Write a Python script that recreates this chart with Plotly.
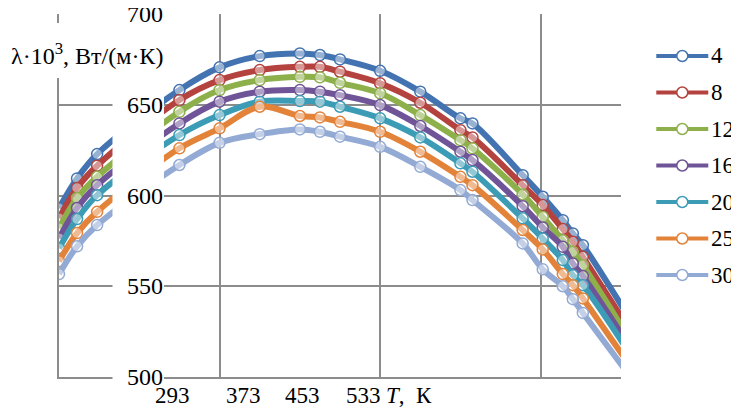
import plotly.graph_objects as go

# Temperature, K
T = [293, 302, 312, 353, 373, 393, 413, 423, 433, 453, 473, 493, 499, 524, 534, 544, 549, 554, 593]

series_names = ["4", "8", "12", "16", "20", "25", "30"]
lam_4  = [593.0, 609.4, 622.8, 658.1, 670.6, 676.8, 678.3, 677.4, 675.0, 668.7, 657.2, 642.5, 639.7, 611.2, 599.3, 586.4, 579.1, 572.6, 503.6]
lam_8  = [587.5, 604.2, 616.4, 652.6, 663.6, 669.1, 670.9, 670.9, 668.2, 661.8, 651.1, 636.0, 632.0, 605.7, 594.7, 581.5, 574.5, 566.2, 499.1]
lam_12 = [582.0, 598.6, 610.3, 646.1, 658.1, 663.6, 665.4, 665.1, 662.1, 656.3, 644.3, 630.5, 626.0, 600.6, 588.2, 575.4, 569.0, 561.6, 492.6]
lam_16 = [576.5, 593.1, 605.7, 639.7, 651.7, 657.2, 658.1, 657.2, 655.3, 649.8, 638.3, 624.1, 619.5, 594.1, 582.4, 571.7, 562.6, 555.6, 490.0]
lam_20 = [571.0, 587.0, 600.2, 633.3, 644.3, 651.7, 652.0, 651.7, 648.9, 642.5, 632.0, 617.7, 613.1, 587.4, 576.3, 564.4, 556.1, 550.6, 486.2]
lam_25 = [563.8, 579.3, 591.0, 626.0, 637.0, 648.9, 643.8, 643.0, 640.6, 635.1, 624.1, 610.3, 605.7, 581.0, 570.3, 556.7, 550.6, 543.3, 481.3]
lam_30 = [556.7, 572.0, 583.7, 616.8, 629.0, 633.8, 636.4, 635.1, 632.4, 626.8, 615.8, 603.0, 597.5, 573.6, 559.3, 550.0, 542.9, 535.3, 477.2]
all_series = [lam_4, lam_8, lam_12, lam_16, lam_20, lam_25, lam_30]

colors = ["#4373B0", "#B4433F", "#8DB04B", "#6F5497", "#3C9CB6", "#E3833A", "#93AAD4"]

y_ticks = [500, 550, 600, 650, 700]
x_tick_labels = ["293", "373", "453", "533"]

# page body has an 8px margin, so the figure is drawn 8px in from the window corner
OFF = 8
W, H = 739 - OFF, 412 - OFF
L, Tm = 58.5 - OFF, 14 - OFF
R = W - (620.7 - OFF)
B = H - (377 - OFF)
pw = W - L - R
ph = H - Tm - B


def px_x(p):  # window pixel -> paper x
    return (p - OFF - L) / pw


def px_y(p):  # window pixel -> paper y
    return (H - B - (p - OFF)) / ph


FONT = "Liberation Serif"

fig = go.Figure()
for name, vals, c in zip(series_names, all_series, colors):
    fig.add_trace(go.Scatter(
        x=T, y=vals, name=name,
        mode="lines+markers",
        line=dict(color=c, width=6, shape="spline"),
        marker=dict(symbol="circle", size=11, color="rgba(255,255,255,0.45)",
                    line=dict(color=c, width=1.5)),
    ))

grid = "#8C8C8C"
fig.update_xaxes(range=[293, 573], tick0=293, dtick=80, showgrid=True, gridcolor=grid,
                 gridwidth=1.5, showticklabels=False, ticks="", zeroline=False,
                 showline=True, linecolor=grid, linewidth=1.5)
fig.update_yaxes(range=[500, 700], tick0=500, dtick=50, showgrid=True, gridcolor=grid,
                 gridwidth=1.5, showticklabels=False, ticks="", zeroline=False,
                 showline=True, linecolor=grid, linewidth=1.5)

shapes = [
    # white band behind y tick labels
    dict(type="rect", xref="paper", yref="paper", x0=px_x(112), x1=px_x(163.5),
         y0=-0.03, y1=1.03, fillcolor="white", line=dict(width=0), layer="above"),
    # white box behind axis title
    dict(type="rect", xref="paper", yref="paper", x0=px_x(8), x1=px_x(163),
         y0=px_y(78), y1=px_y(23), fillcolor="white", line=dict(width=0), layer="above"),
]

annotations = []
for v in y_ticks:
    annotations.append(dict(xref="paper", yref="y", x=px_x(165), y=v, text=str(v),
                            xanchor="right", yanchor="middle", showarrow=False,
                            font=dict(family=FONT, size=24, color="black")))

x_label_px = [172, 243, 302, 363]
for lab, p in zip(x_tick_labels, x_label_px):
    annotations.append(dict(xref="paper", yref="paper", x=px_x(p), y=px_y(395), text=lab,
                            xanchor="center", yanchor="middle", showarrow=False,
                            font=dict(family=FONT, size=23, color="black")))
annotations.append(dict(xref="paper", yref="paper", x=px_x(384), y=px_y(395),
                        text="<i>T</i>,&nbsp;&nbsp;К", xanchor="left", yanchor="middle",
                        showarrow=False, font=dict(family=FONT, size=23, color="black")))
annotations.append(dict(xref="paper", yref="paper", x=px_x(86.5), y=px_y(54),
                        text="λ·10<sup>3</sup>, Вт/(м·К)", xanchor="center", yanchor="middle",
                        showarrow=False, font=dict(family=FONT, size=24, color="black")))

# legend drawn as line + circle + label
leg_top, leg_step = 56, 36.5
for i, (name, c) in enumerate(zip(series_names, colors)):
    yc = px_y(leg_top + i * leg_step)
    shapes.append(dict(type="line", xref="paper", yref="paper", x0=px_x(656), x1=px_x(708),
                       y0=yc, y1=yc, line=dict(color=c, width=4), layer="above"))
    shapes.append(dict(type="circle", xref="paper", yref="paper",
                       xsizemode="pixel", ysizemode="pixel",
                       xanchor=px_x(682), yanchor=yc, x0=-5.5, x1=5.5, y0=-5.5, y1=5.5,
                       fillcolor="white", line=dict(color=c, width=1.5), layer="above"))
    annotations.append(dict(xref="paper", yref="paper", x=px_x(709), y=yc, text=name,
                            xanchor="left", yanchor="middle", showarrow=False,
                            font=dict(family=FONT, size=23, color="black")))

fig.update_layout(
    width=W, height=H,
    margin=dict(l=L, r=R, t=Tm, b=B, autoexpand=False),
    paper_bgcolor="white", plot_bgcolor="white",
    shapes=shapes, annotations=annotations,
    showlegend=False,
)

fig.write_html("out.html")
